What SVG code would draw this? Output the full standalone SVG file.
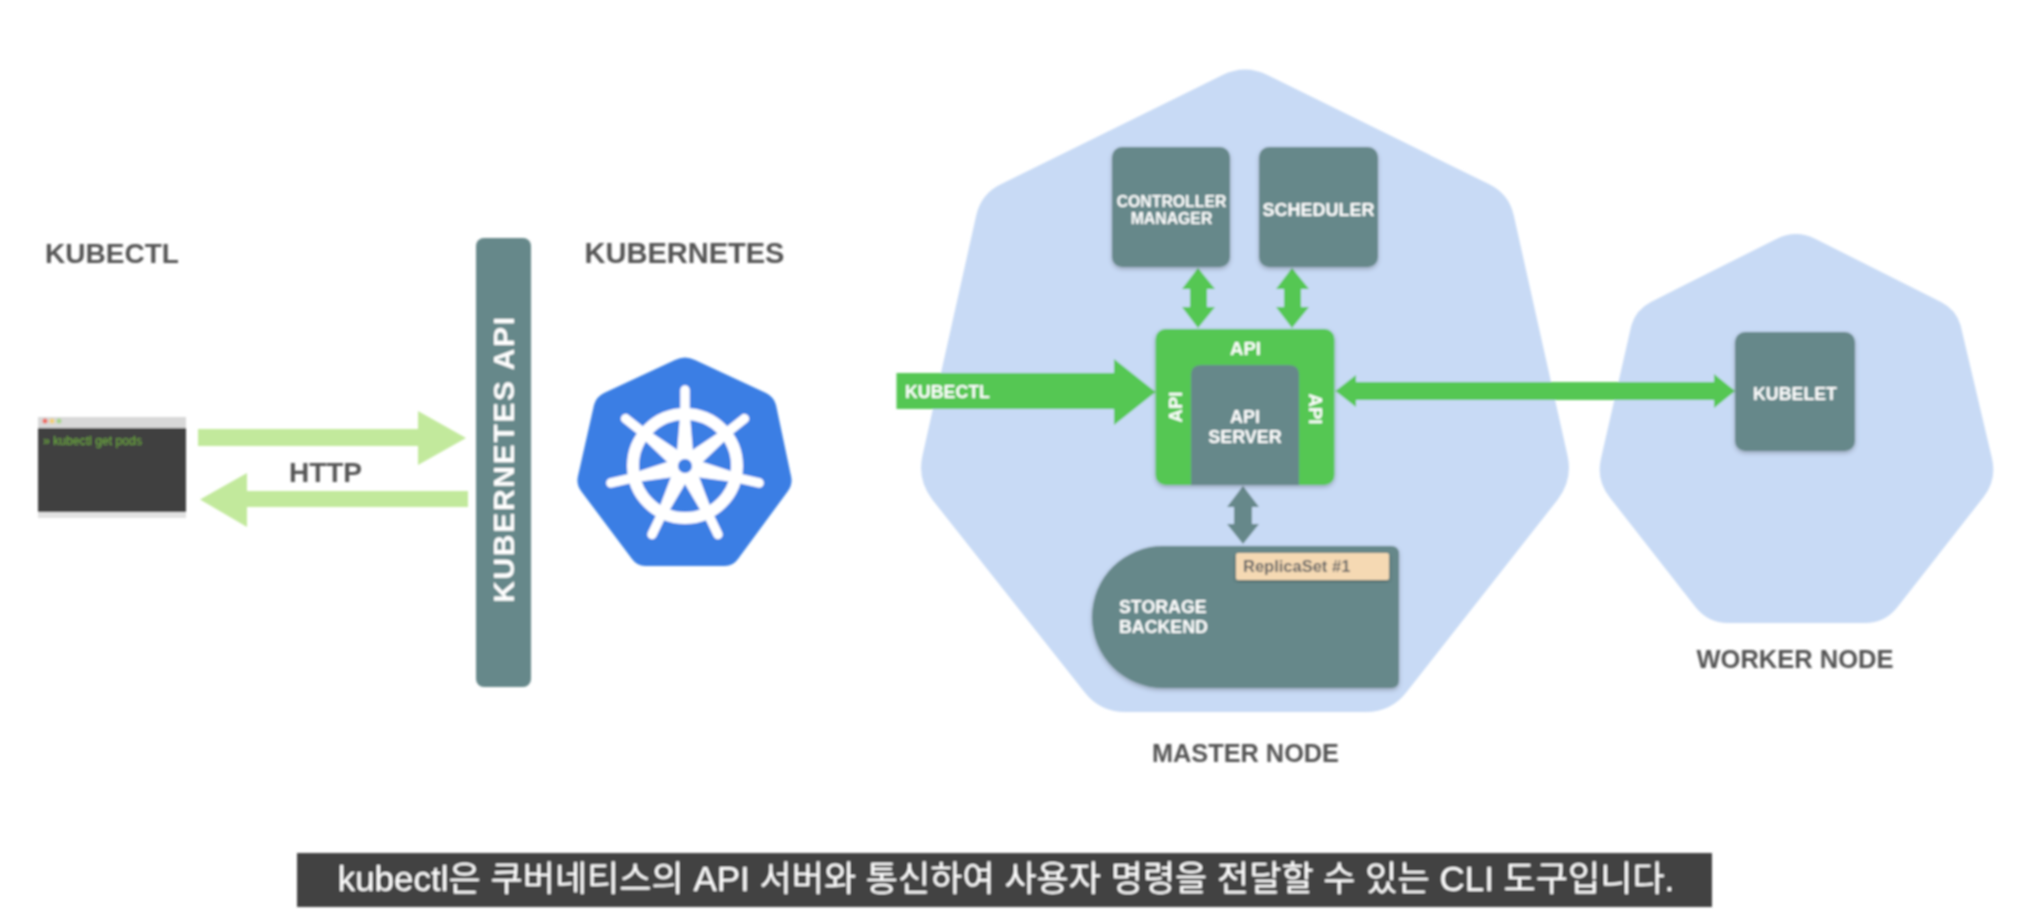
<svg xmlns="http://www.w3.org/2000/svg" width="2018" height="916" viewBox="0 0 2018 916">
  <defs>
    <filter id="soft" x="-2%" y="-2%" width="104%" height="104%"><feGaussianBlur stdDeviation="0.85"/></filter>
    <filter id="shadow" x="-10%" y="-10%" width="120%" height="120%"><feDropShadow dx="0" dy="2" stdDeviation="2" flood-color="#000" flood-opacity="0.25"/></filter>
    <g id="spoke">
      <path d="M-8 -15L-4.8 -52H4.8L8 -15Z" fill="#fff"/>
      <path d="M0 -50V-76" stroke="#fff" stroke-width="9.5" stroke-linecap="round" fill="none"/>
    </g>
  </defs>
  <style>
    text { font-family: "Liberation Sans", "Noto Sans CJK KR", sans-serif; font-weight: bold; }
    .hull { fill: #c8daf5; }
    .box { fill: #66888a; filter: url(#shadow); }
    .label { fill: #555; text-anchor: middle; }
    .w { fill: #fff; text-anchor: middle; }
    .light { fill: #c2e99c; }
    .green { fill: #55c752; }
    .slate { fill: #66888a; }
  </style>
  <rect width="2018" height="916" fill="#fff"/>
  <g filter="url(#soft)">
    <g id="master-node">
      <path class="hull" d="M1222.6 75Q1245 64 1267.4 75L1489.2 184.3Q1509 194 1513.8 215.5L1567.5 455.6Q1573 480 1557.6 499.7L1406.4 692.3Q1391 712 1366 712L1125 712Q1100 712 1084.6 692.3L932.4 499.7Q917 480 922.5 455.6L976.2 215.5Q981 194 1000.8 184.3Z"/>
      <text class="label" x="1245.5" y="762" font-size="25.3">MASTER NODE</text>
    </g>
    <g id="worker-node">
      <path class="hull" d="M1776.4 238.9Q1796 229 1815.6 238.9L1941 301.9Q1957 310 1961.1 327.5L1992 458.6Q1997 480 1983.4 497.3L1897.3 607.3Q1885 623 1865 623L1728 623Q1708 623 1695.7 607.3L1609.6 497.3Q1596 480 1601 458.6L1630.9 327.5Q1635 310 1651 301.9Z"/>
      <text class="label" x="1795" y="668" font-size="25.5">WORKER NODE</text>
    </g>
    <g id="kubectl-terminal">
      <rect x="38" y="422" width="148" height="96" fill="#cfcfcf" opacity="0.6"/>
      <rect x="38" y="417" width="148" height="12" fill="#d8d8d8"/>
      <rect x="38" y="428" width="148" height="84" fill="#414141"/>
      <circle cx="45" cy="421" r="2.5" fill="#ee6a60"/>
      <circle cx="52" cy="421" r="2.5" fill="#f3cf72"/>
      <circle cx="59" cy="421" r="2.5" fill="#a6d68a"/>
      <text x="43" y="445" font-size="12" textLength="99" lengthAdjust="spacingAndGlyphs" fill="#6fae3c" style="font-weight:normal">» kubectl get pods</text>
    </g>
    <text id="kubectl-title" class="label" x="112" y="263" font-size="28">KUBECTL</text>
    <text id="kubernetes-title" class="label" x="684.5" y="263" font-size="29">KUBERNETES</text>
    <g id="kubernetes-api">
      <rect class="slate" x="476" y="238" width="55" height="449" rx="8"/>
      <text class="w" transform="translate(514 459) rotate(-90)" font-size="30" letter-spacing="1.7">KUBERNETES API</text>
    </g>
    <g id="kubernetes-logo">
      <path fill="#3b7ee4" d="M675 360Q685 355 695 360L766 393Q774 397 776 405L791 476Q793 484 788 491L738 559Q733 566 725 566L645 566Q637 566 632 559L581 491Q576 484 578 476L594 405Q596 397 604 393Z"/>
      <circle cx="685" cy="466" r="52" fill="none" stroke="#fff" stroke-width="12"/>
      <g transform="translate(685 466)">
        <use href="#spoke"/>
        <use href="#spoke" transform="rotate(51.43)"/>
        <use href="#spoke" transform="rotate(102.86)"/>
        <use href="#spoke" transform="rotate(154.29)"/>
        <use href="#spoke" transform="rotate(205.71)"/>
        <use href="#spoke" transform="rotate(257.14)"/>
        <use href="#spoke" transform="rotate(308.57)"/>
        <circle r="17" fill="#fff"/>
        <circle r="7" fill="#3b7ee4"/>
      </g>
    </g>
    <g id="connectors">
      <polygon class="light" points="198,429 418,429 418,411 466,438 418,465 418,446 198,446"/>
      <polygon class="light" points="468,491 247,491 247,473 200,499.5 247,527 247,507 468,507"/>
      <polygon class="green" points="1198,268 1215,289 1207,289 1207,307 1215,307 1198,328 1182,307 1190,307 1190,289 1182,289"/>
      <polygon class="green" points="1292,268 1309,289 1301,289 1301,307 1309,307 1292,328 1276,307 1284,307 1284,289 1276,289"/>
      <polygon class="green" points="896.5,373 1114,373 1114,359 1155.5,392 1114,425 1114,409 896.5,409"/>
      <polygon class="green" points="1335.5,391 1356,375 1356,382 1714,382 1714,374 1735,391 1714,408 1714,400 1356,400 1356,407"/>
      <polygon class="slate" points="1243,486 1259,507 1252,507 1252,524 1259,524 1243,544 1227,524 1234,524 1234,507 1227,507"/>
    </g>
    <text id="http-label" class="label" x="325.5" y="482" font-size="28">HTTP</text>
    <text id="kubectl-arrow-label" class="w" x="947.5" y="398" font-size="17.8">KUBECTL</text>
    <g id="controller-manager">
      <rect class="box" x="1112" y="147" width="118" height="120" rx="10"/>
      <text class="w" x="1171.5" y="207" font-size="15.8">CONTROLLER</text>
      <text class="w" x="1171.5" y="224" font-size="15.8">MANAGER</text>
    </g>
    <g id="scheduler">
      <rect class="box" x="1259" y="147" width="119" height="120" rx="10"/>
      <text class="w" x="1318.5" y="216" font-size="18">SCHEDULER</text>
    </g>
    <g id="api-server">
      <rect class="green" x="1155.5" y="329" width="179" height="156" rx="10" style="filter:url(#shadow)"/>
      <path class="slate" d="M1191 485V375Q1191 365 1201 365H1289Q1299 365 1299 375V485Z"/>
      <text class="w" x="1245.5" y="355" font-size="18.5">API</text>
      <text class="w" transform="translate(1182 407) rotate(-90)" font-size="18.5">API</text>
      <text class="w" transform="translate(1309 409) rotate(90)" font-size="18.5">API</text>
      <text class="w" x="1245" y="423" font-size="18">API</text>
      <text class="w" x="1245" y="443" font-size="18">SERVER</text>
    </g>
    <g id="storage-backend">
      <path class="box" d="M1163 546H1391Q1399 546 1399 554V680Q1399 688 1391 688H1163A71 71 0 0 1 1163 546Z"/>
      <text class="w" x="1119" y="613" font-size="17.8" style="text-anchor:start">STORAGE</text>
      <text class="w" x="1119" y="633" font-size="17.8" style="text-anchor:start">BACKEND</text>
    </g>
    <g id="replicaset">
      <rect x="1236" y="553" width="153" height="27" rx="2" fill="#f5d9b3" style="filter:url(#shadow)"/>
      <text x="1243" y="572" font-size="16.5" fill="#666">ReplicaSet #1</text>
    </g>
    <g id="kubelet">
      <rect class="box" x="1735" y="332" width="120" height="119" rx="10"/>
      <text class="w" x="1795" y="400" font-size="17.8">KUBELET</text>
    </g>
    <g id="caption">
      <rect x="297" y="853" width="1415" height="54" fill="#424242"/>
      <text x="1006" y="891" font-size="35" fill="#fff" text-anchor="middle" style="font-weight:normal">kubectl은 쿠버네티스의 API 서버와 통신하여 사용자 명령을 전달할 수 있는 CLI 도구입니다.</text>
    </g>
  </g>
</svg>
